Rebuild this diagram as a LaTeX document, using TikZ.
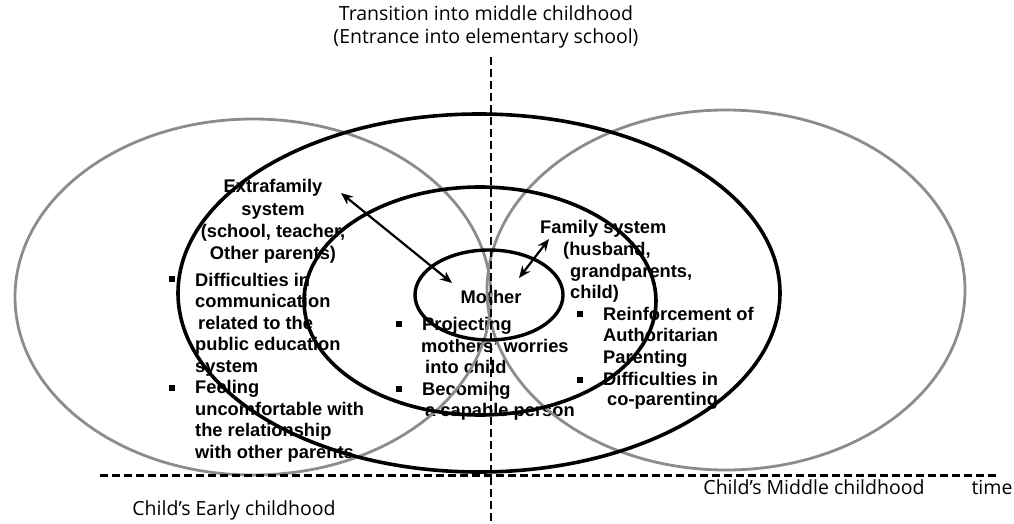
\documentclass[tikz,border=0pt]{standalone}
\usepackage{fontspec}
\setmainfont{Liberation Sans}
\newfontfamily\labfont{Open Sans}
\usetikzlibrary{shapes.geometric,arrows.meta}
\definecolor{ringgray}{HTML}{8C8C8C}
\begin{document}
\begin{tikzpicture}[x=1pt,y=-1pt,
  ring/.style={ellipse, inner sep=0pt, draw},
  grayring/.style={ring, draw=ringgray, line width=2.8pt},
  blackring/.style={ring, draw=black, line width=3.6pt},
  bt/.style={font=\bfseries\fontsize{18.3}{21}\selectfont, inner sep=0pt, anchor=base west},
  lab/.style={font=\labfont\fontsize{19.5}{23}\selectfont, inner sep=0pt, anchor=base},
  sq/.style={fill=black, minimum size=6pt, inner sep=0pt},
  arr/.style={line width=2.2pt, {Stealth[length=12pt,width=10pt]}-{Stealth[length=12pt,width=10pt]}},
  vdash/.style={line width=1.8pt, dash pattern=on 8pt off 4pt},
  hdash/.style={line width=3pt, dash pattern=on 8pt off 4pt}]
\useasboundingbox (0,0) rectangle (1014,524);

% titles and time labels
\node[lab] (t1) at (486,21) {Transition into middle childhood};
\node[lab] (t2) at (486,44) {(Entrance into elementary school)};
\node[lab] (earlylab) at (234,515) {Child’s Early childhood};
\node[lab] (midlab) at (814,494) {Child’s Middle childhood};
\node[lab] (timelab) at (992,494) {time};

% extrafamily system
\node[bt, anchor=base] (e1) at (273,192) {Extrafamily};
\node[bt, anchor=base] (e2) at (273,215) {system};
\node[bt, anchor=base] (e3) at (273,237) {(school, teacher,};
\node[bt, anchor=base] (e4) at (273,259) {Other parents)};
\node[sq] (eb1) at (172,279) {};
\node[bt] (el1) at (195,286) {Difficulties in};
\node[bt] (el2) at (195,307.5) {communication};
\node[bt] (el3) at (198,329) {related to the};
\node[bt] (el4) at (195,350.5) {public education};
\node[bt] (el5) at (195,372) {system};
\node[sq] (eb2) at (172,387.5) {};
\node[bt] (el6) at (195,393.5) {Feeling};
\node[bt] (el7) at (195,415) {uncomfortable with};
\node[bt] (el8) at (195,436.5) {the relationship};
\node[bt] (el9) at (195,458) {with other parents};

% mother
\node[bt, anchor=base] (mother) at (491,303) {Mother};
\node[sq] (mb1) at (398.5,324) {};
\node[bt] (ml1) at (422,330) {Projecting};
\node[bt] (ml2) at (421,352) {mothers’ worries};
\node[bt] (ml3) at (425,373) {into child};
\node[sq] (mb2) at (398.5,389) {};
\node[bt] (ml4) at (422,395) {Becoming};
\node[bt] (ml5) at (425,416) {a capable person};

% family system
\node[bt] (f1) at (540,233) {Family system};
\node[bt] (f2) at (563,255) {(husband,};
\node[bt] (f3) at (570,277) {grandparents,};
\node[bt] (f4) at (570,298) {child)};
\node[sq] (fb1) at (580,313.5) {};
\node[bt] (fl1) at (603,320) {Reinforcement of};
\node[bt] (fl2) at (603,341.5) {Authoritarian};
\node[bt] (fl3) at (603,363) {Parenting};
\node[sq] (fb2) at (580,379.5) {};
\node[bt] (fl4) at (603,385) {Difficulties in};
\node[bt] (fl5) at (607,405) {co-parenting};

% rings
\node[grayring, minimum width=476pt, minimum height=356pt] (earlyring) at (253,297) {};
\node[grayring, minimum width=478pt, minimum height=360pt] (middlering) at (726,290) {};
\node[blackring, minimum width=602pt, minimum height=358pt] (outer) at (479,293) {};
\node[blackring, minimum width=352pt, minimum height=228pt] (mid) at (480,301) {};
\node[blackring, line width=3.4pt, minimum width=148pt, minimum height=90pt] (inner) at (489,295) {};

% dashed axes
\coordinate (vtop) at (491,57);
\coordinate (vbot) at (491,524);
\draw[vdash] (vtop) -- (vbot);
\coordinate (hl) at (100,475);
\coordinate (hr) at (998,475);
\draw[hdash] (hl) -- (hr);

% arrows
\coordinate (ea) at (341,193);
\coordinate (eb) at (452,283);
\draw[arr] (ea) -- (eb);
\coordinate (fa) at (549,239);
\coordinate (fb) at (519,278);
\draw[arr] (fa) -- (fb);
\end{tikzpicture}
\end{document}
